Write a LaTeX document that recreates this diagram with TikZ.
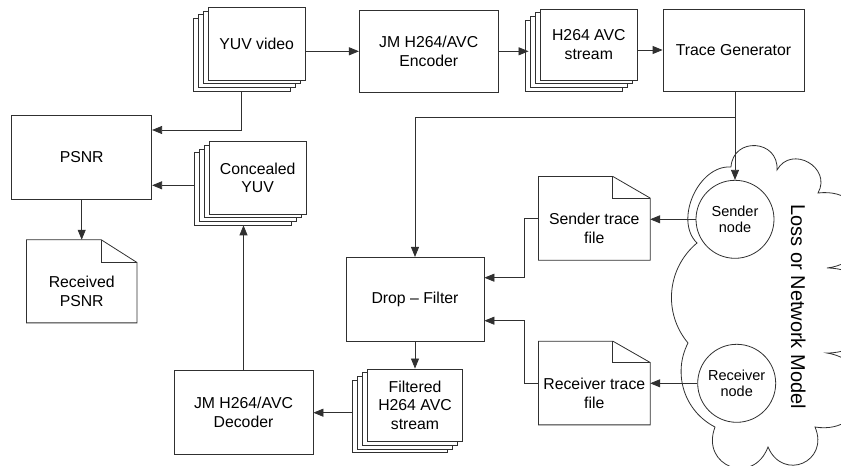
\documentclass[tikz,border=0pt]{standalone}
\usepackage{fontspec}
\setmainfont{Liberation Sans}
\usetikzlibrary{shadows,arrows.meta,calc}
\definecolor{lc}{HTML}{303030}
\begin{document}
\begin{tikzpicture}[x=1pt,y=-1pt,
  every node/.style={font=\fontsize{15.8}{18.8}\selectfont, align=center, text=black},
  ln/.style={draw=lc, line width=0.8pt},
  box/.style={ln, rectangle, fill=white, inner sep=0pt},
  stack/.style={ln, rectangle, fill=white, minimum width=96.7pt, minimum height=72.5pt, inner sep=0pt,
    general shadow={shadow xshift=-15pt, shadow yshift=-11pt, fill=white, draw=lc, line width=0.8pt},
    general shadow={shadow xshift=-10pt, shadow yshift=-7.4pt, fill=white, draw=lc, line width=0.8pt},
    general shadow={shadow xshift=-5pt, shadow yshift=-3.7pt, fill=white, draw=lc, line width=0.8pt}},
  doc/.style={rectangle, minimum width=111.3pt, minimum height=83.3pt, inner sep=0pt},
  doctext/.style={font=\fontsize{15.8}{18.8}\selectfont, align=center, yshift=-10pt},
  nd/.style={ln, circle, fill=white, minimum size=78pt, inner sep=0pt, font=\fontsize{14.5}{16.5}\selectfont},
  arr/.style={draw=lc, line width=0.8pt, -{Triangle[length=10pt,width=8pt]}},
]
\useasboundingbox (0,0) rectangle (841,466);

% cloud
\begin{scope}
\clip (0,0) rectangle (841,466);
\draw[ln] (731,167) to[bend left=90, looseness=1.7] (777,170)
  to[bend left=90, looseness=1.6] (818,193)
  to[bend left=90, looseness=1.9] (827,268)
  to[bend left=90, looseness=1.9] (827,353)
  to[bend left=90, looseness=1.9] (815,427)
  to[bend left=90, looseness=1.9] (768,447)
  to[bend left=90, looseness=1.9] (715,427)
  to[bend left=45] (688,343)
  to[bend left=45] (697,243)
  to[bend left=70] (731,167);
\end{scope}

% nodes
\node[stack] (yuv) at (256.7,43.7) {YUV video};
\node[box, minimum width=138.7pt, minimum height=82.7pt] (enc) at (428.7,51.3) {JM H264/AVC\\Encoder};
\node[stack, minimum width=97.7pt, minimum height=71pt] (h264) at (588.8,44.5) {H264 AVC\\stream};
\node[box, minimum width=141pt, minimum height=82pt] (tg) at (733.5,50) {Trace Generator};
\node[box, minimum width=140pt, minimum height=84pt] (psnr) at (81.7,157) {PSNR};
\node[stack, minimum height=72.3pt] (conc) at (257.7,177.8) {Concealed\\YUV};
\node[doc, minimum width=110pt, minimum height=82.7pt, label={[doctext]center:Received\\PSNR}] (rpsnr) at (81.7,281.3) {};
\node[box, minimum width=138pt, minimum height=83.7pt] (drop) at (415,299.2) {Drop – Filter};
\node[doc, label={[doctext]center:Sender trace\\file}] (stf) at (594.3,218.3) {};
\node[doc, label={[doctext]center:Receiver trace\\file}] (rtf) at (594.3,383) {};
\node[stack, minimum width=95.7pt, minimum height=72.7pt] (filt) at (415,405.3) {Filtered\\H264 AVC\\stream};
\node[box, minimum width=139pt, minimum height=83.6pt] (dec) at (243.5,412.5) {JM H264/AVC\\Decoder};
\node[nd] (sn) at (735,219.3) {Sender\\node};
\node[nd] (rn) at (736.7,383.3) {Receiver\\node};
\node[rotate=-90, font=\fontsize{20}{24}\selectfont] (loss) at (798.3,306.7) {Loss or Network Model};

% document outlines (folded corner)
\foreach \n/\fx/\fy in {rpsnr/35.7pt/22.7pt, stf/37.3pt/21.6pt, rtf/37.3pt/21.3pt} {
  \draw[ln] (\n.north west) -- ([xshift=-\fx]\n.north east) -- ([yshift=-\fy]\n.north east)
     -- (\n.south east) -- (\n.south west) -- cycle;
  \draw[ln] ([xshift=-\fx]\n.north east) -- ([xshift=-\fx, yshift=-\fy]\n.north east) -- ([yshift=-\fy]\n.north east);
}

% connectors
\draw[arr] (enc.west -| yuv.east) -- (enc.west);
\draw[arr, shorten >=11pt] (enc.east) -- (enc.east -| h264.west);
\draw[arr] (tg.west -| h264.east) -- (tg.west);
\draw[arr] (sn.north |- tg.south) -- (sn.north);
\coordinate (br) at (735,117.3);
\draw[arr] (br) -| (drop.north);
\draw[arr] ([xshift=-15pt,yshift=-11pt]yuv.south) |- ([yshift=27pt]psnr.east);
\coordinate (cl) at ([xshift=-15pt,yshift=-7.5pt]conc.west);
\draw[arr] (cl) -- (cl -| psnr.east);
\draw[arr] (psnr.south) -- (rpsnr.north);
\coordinate (cb) at ([yshift=-11pt]conc.south);
\draw[arr] (dec.north) -- (dec.north |- cb);
\draw[arr] (drop.south) -- (filt.north);
\coordinate (fl) at ([xshift=-15pt,yshift=-7.4pt]filt.west);
\draw[arr] (fl) -- (fl -| dec.east);
\draw[arr] (stf.west) -- ++(-14.4,0) |- ([yshift=21.5pt]drop.east);
\draw[arr] (rtf.west) -- ++(-14.4,0) |- ([yshift=-21.5pt]drop.east);
\draw[arr] (sn.west) -- (sn.west -| stf.east);
\draw[arr] (rn.west) -- (rn.west -| rtf.east);
\end{tikzpicture}
\end{document}
